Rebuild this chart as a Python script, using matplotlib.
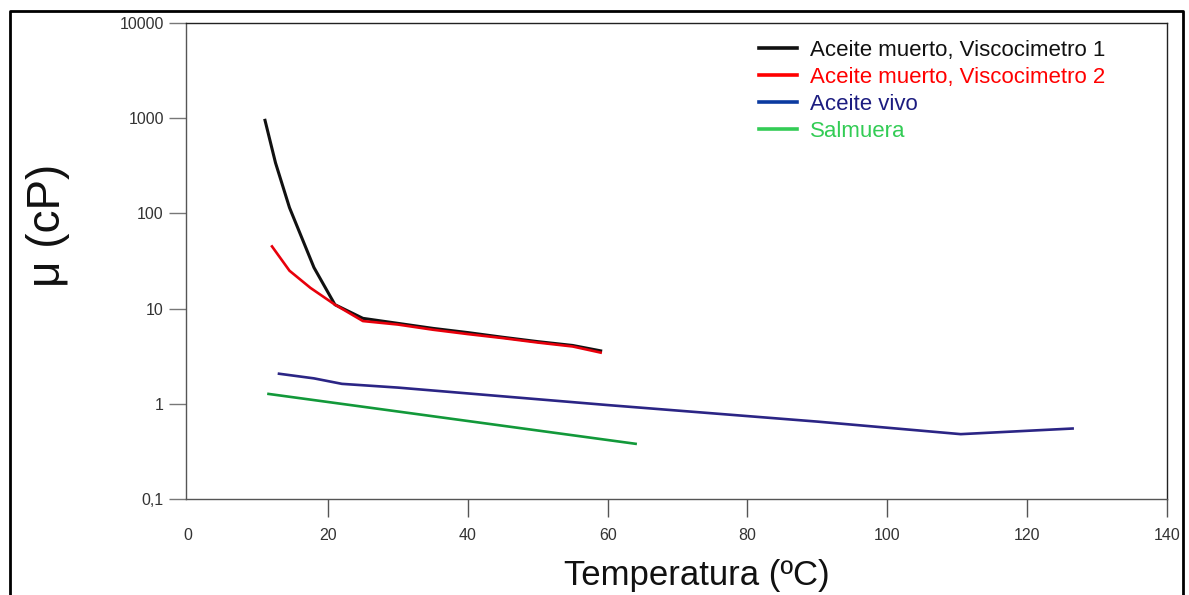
import matplotlib
matplotlib.use("Agg")
import matplotlib.pyplot as plt
from matplotlib.lines import Line2D
from matplotlib.ticker import NullLocator, FixedLocator, FixedFormatter

plt.rcParams['font.family'] = ['Liberation Sans', 'DejaVu Sans']

# aceite muerto, viscosimetro 1
t_muerto1 = [11, 12.5, 14.5, 18, 21, 25, 30, 35, 40, 45, 50, 55, 59]
mu_muerto1 = [950, 340, 115, 27, 11, 7.9, 7.0, 6.2, 5.6, 5.0, 4.5, 4.1, 3.6]

# aceite muerto, viscosimetro 2
t_muerto2 = [12, 14.5, 17.5, 21, 25, 30, 35, 40, 45, 50, 55, 59]
mu_muerto2 = [45, 25, 16.5, 11, 7.4, 6.8, 6.0, 5.4, 4.9, 4.4, 4.0, 3.45]

# aceite vivo
t_vivo = [13, 18, 22, 30, 60, 90, 110.5, 126.5]
mu_vivo = [2.07, 1.85, 1.62, 1.48, 0.97, 0.65, 0.48, 0.55]

# salmuera
t_salmuera = [11.5, 64]
mu_salmuera = [1.27, 0.38]

labels = ["Aceite muerto, Viscocimetro 1", "Aceite muerto, Viscocimetro 2",
          "Aceite vivo", "Salmuera"]
line_colors = ["#111111", "#e8000b", "#2b2585", "#12993a"]
legend_colors = ["#111111", "#ff0000", "#0b3aa0", "#33cc55"]
text_colors = ["#111111", "#ff0000", "#1c1c80", "#33cc55"]

x_ticks = [0, 20, 40, 60, 80, 100, 120, 140]
y_ticks = [0.1, 1, 10, 100, 1000, 10000]
y_tick_labels = ["0,1", "1", "10", "100", "1000", "10000"]

fig = plt.figure(figsize=(11.89, 5.95), dpi=100)
ax = fig.add_axes([186/1189, 1-499/595, (1167-186)/1189, (499-23)/595])

ax.plot(t_muerto1, mu_muerto1, color=line_colors[0], lw=2.2)
ax.plot(t_muerto2, mu_muerto2, color=line_colors[1], lw=1.9)
ax.plot(t_vivo, mu_vivo, color=line_colors[2], lw=1.9)
ax.plot(t_salmuera, mu_salmuera, color=line_colors[3], lw=1.9)

ax.set_yscale('log')
ax.set_ylim(0.1, 10000)
ax.set_xlim(-0.3, 140)

ax.yaxis.set_major_locator(FixedLocator(y_ticks))
ax.yaxis.set_major_formatter(FixedFormatter(y_tick_labels))
ax.yaxis.set_minor_locator(NullLocator())
ax.set_xticks(x_ticks)
ax.set_xticklabels([str(v) for v in x_ticks])

ax.tick_params(axis='y', direction='out', length=12, width=1, color='#777777',
               pad=4, labelsize=11.5, labelcolor='#333333')
ax.tick_params(axis='x', direction='out', length=13, width=1, color='#555555',
               pad=8, labelsize=11.5, labelcolor='#333333')
ax.xaxis.get_major_ticks()[0].tick1line.set_visible(False)

for side in ['left', 'bottom']:
    ax.spines[side].set_color('#555555')
for side in ['top', 'right']:
    ax.spines[side].set_color('#222222')
for s in ax.spines.values():
    s.set_linewidth(1)

handles = [Line2D([], [], color=c, lw=2.6) for c in legend_colors]
leg = ax.legend(handles, labels, loc='upper left', bbox_to_anchor=(0.575, 0.983),
                frameon=False, fontsize=16, handlelength=1.7, handletextpad=0.6,
                labelspacing=0.27, borderaxespad=0)
for txt, c in zip(leg.get_texts(), text_colors):
    txt.set_color(c)

fig.text(48/1189, 1-225/595, "μ (cP)", rotation=90, ha='center', va='center',
         fontsize=33, color='#111111')
fig.text(697/1189, 1-575/595, "Temperatura (ºC)", ha='center', va='center',
         fontsize=25, color='#111111')

# outer frame
fig.add_artist(Line2D([10/1189, 10/1189, 1183/1189, 1183/1189],
                      [0, 1-11/595, 1-11/595, 0], transform=fig.transFigure,
                      color='black', lw=2))

fig.savefig("out.png", dpi=100)
